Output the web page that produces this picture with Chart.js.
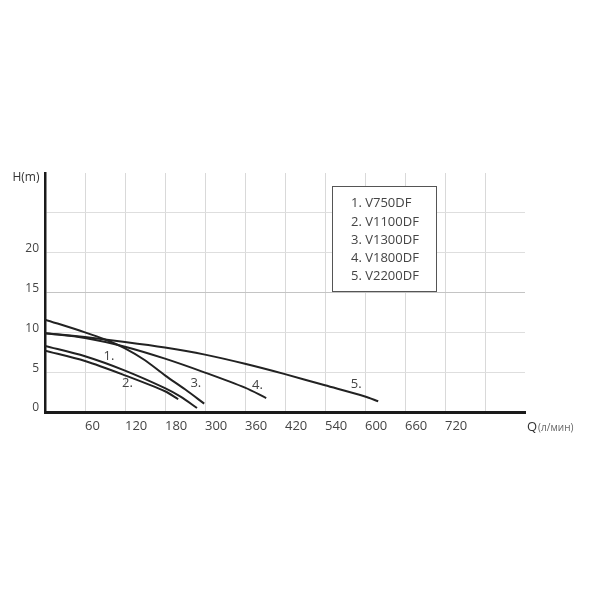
<!DOCTYPE html>
<html>
<head>
<meta charset="utf-8">
<script src="https://cdn.jsdelivr.net/npm/chart.js@4"></script>
<style>
  html, body { margin: 0; padding: 0; background: #fff; }
</style>
</head>
<body>
<canvas id="chartContainer" width="600" height="600"></canvas>
<script>
// Pump curves H(Q)

// x is read in grid steps (the Q labels are not evenly spaced), y in metres
const qTickLabels = ['60', '120', '180', '300', '360', '420', '540', '600', '660', '720']
const hShown = [0, 5, 10, 15, 20]
const models = ['V750DF', 'V1100DF', 'V1300DF', 'V1800DF', 'V2200DF']

const q750 = [0, 1, 2, 3, 3.4, 3.8]
const h750 = [8.3, 7.0, 5.2, 3.0, 1.9, 0.5]

const q1100 = [0, 1, 2, 3, 3.33]
const h1100 = [7.7, 6.4, 4.6, 2.6, 1.6]

const q1300 = [0, 1, 1.5, 2, 2.5, 3, 3.5, 3.98]
const h1300 = [11.6, 10.0, 9.1, 8.0, 6.5, 4.6, 2.85, 1.05]

const q1800 = [0, 1, 2, 3, 4, 5, 5.53]
const h1800 = [9.9, 9.3, 8.2, 6.7, 4.95, 3.05, 1.75]

const q2200 = [0, 1, 2, 3, 4, 5, 6, 7, 8, 8.33]
const h2200 = [9.9, 9.4, 8.8, 8.1, 7.2, 6.05, 4.75, 3.35, 1.95, 1.35]

// where the "1." ... "5." marks sit, in chart units
const markQ = [1.6, 2.06, 3.77, 5.31, 7.78]
const markH = [7.0, 3.6, 3.6, 3.35, 3.5]

///////////////

function toPoints(qs, hs) {
    return qs.map(function (q, i) { return { x: q, y: hs[i] } })
}

const curves = [
    toPoints(q750, h750),
    toPoints(q1100, h1100),
    toPoints(q1300, h1300),
    toPoints(q1800, h1800),
    toPoints(q2200, h2200)
]

const FONT = '"Open Sans", "DejaVu Sans", sans-serif'

// extra texts: axis names, curve numbers and the model box
const annotations = {
    id: 'annotations',
    afterDraw(chart) {
        const ctx = chart.ctx
        const xs = chart.scales.x
        const ys = chart.scales.y
        ctx.save()

        ctx.fillStyle = '#333'
        ctx.font = '12px ' + FONT
        ctx.textAlign = 'center'
        ctx.textBaseline = 'middle'
        ctx.fillText('H(m)', 26, 178)

        ctx.textAlign = 'left'
        ctx.font = '13px ' + FONT
        ctx.fillStyle = '#333'
        ctx.fillText('Q', 527, 427)
        const qw = ctx.measureText('Q').width
        ctx.font = '10px ' + FONT
        ctx.fillStyle = '#666'
        ctx.fillText('(л/мин)', 527 + qw + 1, 428)

        ctx.font = '13px ' + FONT
        ctx.fillStyle = '#444'
        ctx.textAlign = 'center'
        for (let i = 0; i < markQ.length; i++) {
            ctx.fillText((i + 1) + '.', xs.getPixelForValue(markQ[i]), ys.getPixelForValue(markH[i]))
        }

        // model box
        ctx.fillStyle = '#fff'
        ctx.fillRect(332.5, 186.5, 104, 105)
        ctx.strokeStyle = '#555'
        ctx.lineWidth = 1
        ctx.strokeRect(332.5, 186.5, 104, 105)
        ctx.fillStyle = '#444'
        ctx.textAlign = 'left'
        ctx.font = '13px ' + FONT
        models.forEach(function (m, i) {
            ctx.fillText((i + 1) + '. ' + m, 351, 203.5 + i * 18.3)
        })

        ctx.restore()
    }
}

var ctx = document.getElementById('chartContainer').getContext('2d')
var myChart = new Chart(ctx, {
    type: 'line',
    data: {
        datasets: curves.map(function (pts, i) {
            return {
                label: models[i],
                data: pts,
                borderColor: '#222',
                borderWidth: 2,
                pointRadius: 0,
                fill: false,
                tension: 0.3
            }
        })
    },
    options: {
        responsive: false,
        animation: false,
        layout: { padding: { top: 173, right: 75, left: 0, bottom: 0 } },
        plugins: {
            legend: { display: false },
            tooltip: { enabled: false }
        },
        scales: {
            x: {
                type: 'linear',
                min: 0,
                max: 12,
                afterFit: function (s) { s.height = 188 },
                ticks: {
                    stepSize: 1,
                    autoSkip: false,
                    maxRotation: 0,
                    align: 'start',
                    padding: 6,
                    color: '#444',
                    font: { family: FONT, size: 13 },
                    callback: function (v) { return qTickLabels[v - 1] || '' }
                },
                grid: {
                    drawTicks: false,
                    color: function (c) {
                        const v = c.tick.value
                        return (v === 0 || v === 12) ? 'rgba(0,0,0,0)' : '#d9d9d9'
                    }
                },
                border: { color: '#1a1a1a', width: 3 }
            },
            y: {
                min: 0,
                max: 30,
                afterFit: function (s) { s.width = 45 },
                ticks: {
                    stepSize: 5,
                    padding: 6,
                    labelOffset: -4,
                    color: '#444',
                    font: { family: FONT, size: 12 },
                    callback: function (v) { return hShown.indexOf(v) >= 0 ? String(v) : '' }
                },
                grid: {
                    drawTicks: false,
                    color: function (c) {
                        const v = c.tick.value
                        if (v === 0 || v === 30) return 'rgba(0,0,0,0)'
                        return v === 15 ? '#c4c4c4' : '#dedede'
                    }
                },
                border: { color: '#1a1a1a', width: 2.5 }
            }
        }
    },
    plugins: [annotations]
})
</script>
</body>
</html>
